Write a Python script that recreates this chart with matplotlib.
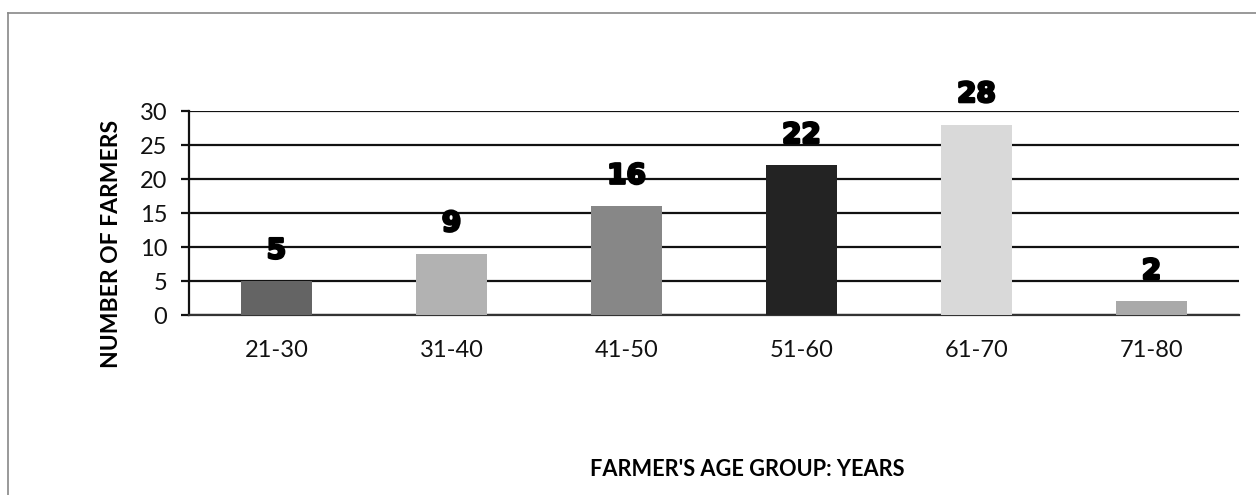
import matplotlib
matplotlib.use("Agg")
import matplotlib.pyplot as plt
import matplotlib.patheffects as pe
from matplotlib.lines import Line2D

# Farmers per age group
age_groups = ["21-30", "31-40", "41-50", "51-60", "61-70", "71-80"]
farmers = [5, 9, 16, 22, 28, 2]
bar_colors = ["#646464", "#b2b2b2", "#878787", "#232323", "#d9d9d9", "#a9a9a9"]
y_ticks = [0, 5, 10, 15, 20, 25, 30]

W, H, DPI = 1256, 495, 100
fig = plt.figure(figsize=(W / DPI, H / DPI), dpi=DPI)
fig.patch.set_facecolor("white")

body_font = "Lato"

ax = fig.add_axes([189 / W, 1 - 315 / H, (1239 - 189) / W, (315 - 111) / H])
x = list(range(len(age_groups)))
ax.bar(x, farmers, width=0.405, color=bar_colors, edgecolor="none", zorder=3)

ax.set_xlim(-0.5, len(age_groups) - 0.5)
ax.set_ylim(0, 30)
ax.set_yticks(y_ticks)
ax.set_xticks(x)
ax.set_xticklabels(age_groups)
ax.yaxis.grid(True, color="#111111", linewidth=1.6, zorder=1)
ax.set_axisbelow(True)

for side in ("top", "right"):
    ax.spines[side].set_visible(False)
ax.spines["left"].set_color("#111111")
ax.spines["left"].set_linewidth(1.6)
ax.spines["bottom"].set_color("#333333")
ax.spines["bottom"].set_linewidth(1.6)

ax.tick_params(axis="y", length=5.8, width=1.6, color="#111111", pad=10,
               labelsize=17)
ax.tick_params(axis="x", length=0, pad=18, labelsize=17)
for lab in ax.get_xticklabels() + ax.get_yticklabels():
    lab.set_fontfamily(body_font)
    lab.set_color("#111111")

# Value labels above each bar
for xi, v in zip(x, farmers):
    ax.annotate(str(v), xy=(xi, v), xytext=(0, 22.0), textcoords="offset points",
                ha="center", va="center", fontsize=20, fontweight="bold",
                family="DejaVu Sans", color="black", zorder=5,
                path_effects=[pe.withStroke(linewidth=1.8, foreground="black")])

ax.set_ylabel("NUMBER OF FARMERS", fontsize=16.5, fontweight="bold",
              family=body_font, labelpad=10)
ax.yaxis.set_label_coords(-(189 - 122) / (1239 - 189), 0.35)

fig.text(747 / W, 1 - 470 / H, "FARMER'S AGE GROUP: YEARS", ha="center",
         va="center", fontsize=15.7, fontweight="bold", family=body_font)

# Outer frame of the chart area
frame_x = 8 / W
frame_y = 1 - 13 / H
fig.add_artist(Line2D([frame_x, frame_x], [0, frame_y], transform=fig.transFigure,
                      color="#888888", linewidth=1.2))
fig.add_artist(Line2D([frame_x, 1], [frame_y, frame_y], transform=fig.transFigure,
                      color="#888888", linewidth=1.2))

fig.savefig("out.png", dpi=DPI, facecolor="white")
